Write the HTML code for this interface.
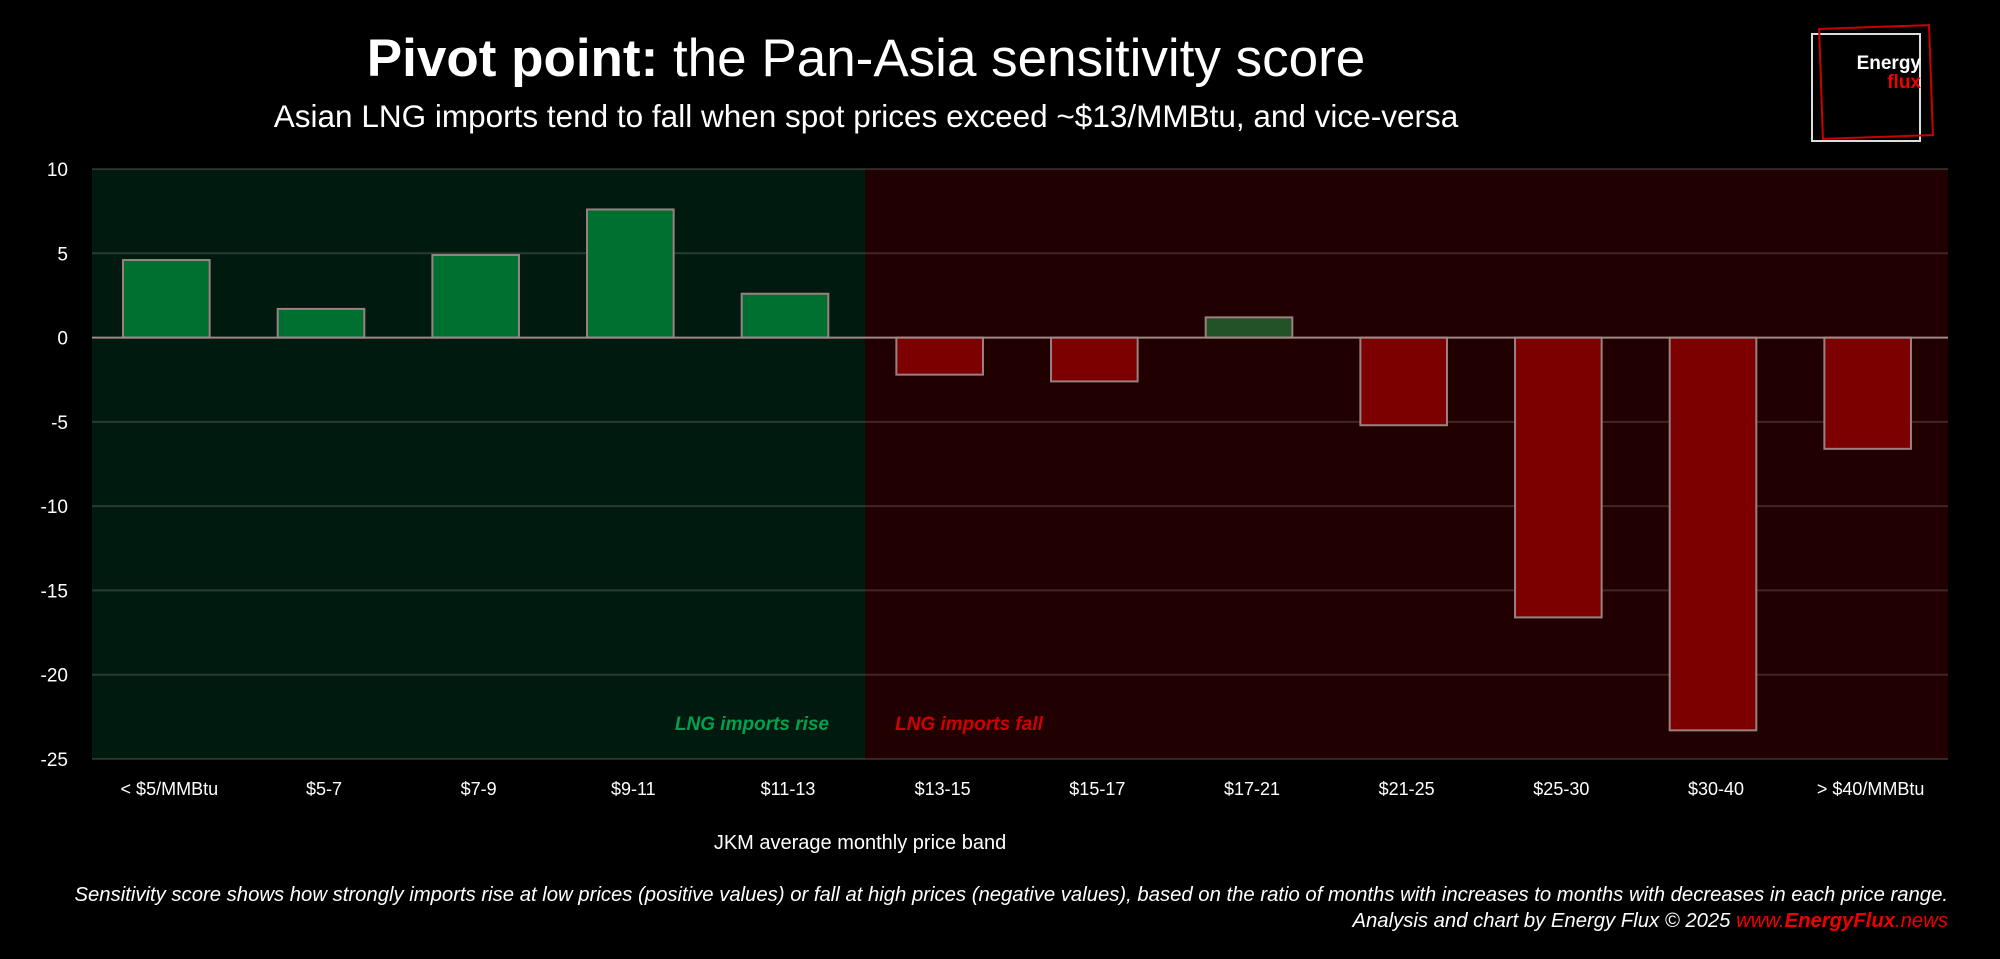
<!DOCTYPE html>
<html><head><meta charset="utf-8">
<style>
html,body{margin:0;padding:0;background:#000;}
body{width:2000px;height:959px;overflow:hidden;position:relative;font-family:"Liberation Sans",sans-serif;color:#fff;}
.t{position:absolute;white-space:nowrap;}
</style></head>
<body>
<div class="t" style="left:0;width:1732px;text-align:center;top:28px;font-size:53px;"><b>Pivot point:</b> the Pan-Asia sensitivity score</div>
<div class="t" style="left:0;width:1732px;text-align:center;top:98px;font-size:31.5px;">Asian LNG imports tend to fall when spot prices exceed ~$13/MMBtu, and vice-versa</div>
<div style="position:absolute;left:1811px;top:33px;width:110px;height:109px;">
 <div style="position:absolute;left:0;top:0;width:106px;height:105px;border:2px solid #ddd;"></div>
 <div style="position:absolute;left:9px;top:-7px;width:108px;height:108px;border:2px solid #c00;transform:rotate(-2deg);"></div>
 <div class="t" style="right:0px;top:21px;font-size:19px;font-weight:bold;text-align:right;line-height:19px;">Energy<br><span style="color:#e00;">flux</span></div>
</div>
<svg id="chart" width="2000" height="959" style="position:absolute;left:0;top:0;"></svg>
<div class="t" style="right:52px;top:884px;font-size:20.3px;font-style:italic;">Sensitivity score shows how strongly imports rise at low prices (positive values) or fall at high prices (negative values), based on the ratio of months with increases to months with decreases in each price range.</div>
<div class="t" style="right:52px;top:910px;font-size:20.3px;font-style:italic;">Analysis and chart by Energy Flux © 2025 <span style="color:#e00;">www.<b>EnergyFlux</b>.news</span></div>
<script>
const categories=["< $5/MMBtu","$5-7","$7-9","$9-11","$11-13","$13-15","$15-17","$17-21","$21-25","$25-30","$30-40","> $40/MMBtu"];
const values=[4.6,1.7,4.9,7.6,2.6,-2.2,-2.6,1.2,-5.2,-16.6,-23.3,-6.6];
const yTicks=[10,5,0,-5,-10,-15,-20,-25];
const NS="http://www.w3.org/2000/svg";
const svg=document.getElementById('chart');
const L=92,R=1948,yMax=10,yMin=-25,T=169,B=759;
const y=v=>T+(yMax-v)/(yMax-yMin)*(B-T);
const bw=(R-L)/categories.length;
const xc=i=>L+bw*(i+0.5);
function mk(tag,a,parent){const e=document.createElementNS(NS,tag);for(const k in a)e.setAttribute(k,a[k]);(parent||svg).appendChild(e);return e;}
const split=5;
let g=mk('rect',{x:L,y:T,width:bw*split,height:B-T,fill:'#001a0f'});


g=mk('rect',{x:L+bw*split,y:T,width:R-L-bw*split,height:B-T,fill:'#200000'});


yTicks.forEach(t=>{
 if(t!==0){const ln=mk('line',{x1:L,x2:R,y1:y(t),y2:y(t),stroke:'rgba(255,255,255,0.15)','stroke-width':2});
 
 }
 const tx=mk('text',{x:68,y:y(t)+7,'text-anchor':'end',fill:'#fff','font-size':19,'font-family':'Liberation Sans, sans-serif'});
 tx.textContent=t;
 
 
});
categories.forEach((c,i)=>{
 const v=values[i];
 const w=bw*0.56;
 const pos=v>=0;
 const col=pos?(i<split?'#007030':'#235227'):'#7d0000';
 const r=mk('rect',{x:xc(i)-w/2-3,y:Math.min(y(v),y(0)),width:w,height:Math.abs(y(v)-y(0)),fill:col,stroke:'#9a8080','stroke-width':2});
 
 
 const tx=mk('text',{x:xc(i),y:795,'text-anchor':'middle',fill:'#fff','font-size':18,'font-family':'Liberation Sans, sans-serif'});
 tx.textContent=c;
 
 
});
const zl=mk('line',{x1:L,x2:R,y1:y(0),y2:y(0),stroke:'#a08888','stroke-width':2});


let t1=mk('text',{x:752,y:730,'text-anchor':'middle',fill:'#00a050','font-size':19,'font-style':'italic','font-weight':'bold','font-family':'Liberation Sans, sans-serif'});
t1.textContent='LNG imports rise';


let t2=mk('text',{x:969,y:730,'text-anchor':'middle',fill:'#d00000','font-size':19,'font-style':'italic','font-weight':'bold','font-family':'Liberation Sans, sans-serif'});
t2.textContent='LNG imports fall';


let xt=mk('text',{x:860,y:849,'text-anchor':'middle',fill:'#fff','font-size':20,'font-family':'Liberation Sans, sans-serif'});
xt.textContent='JKM average monthly price band';


</script>
</body></html>
